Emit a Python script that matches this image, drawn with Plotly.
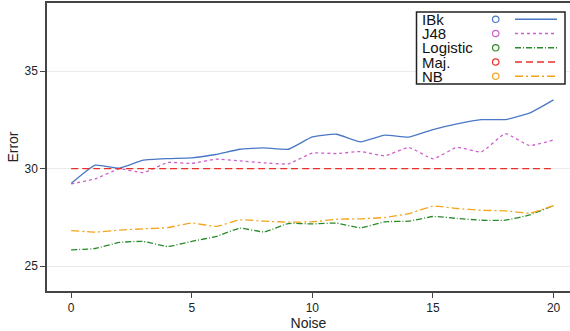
import plotly.graph_objects as go

noise = list(range(21))
ibk = [29.23, 30.17, 30.02, 30.43, 30.51, 30.55, 30.72, 30.99, 31.06, 30.99, 31.62,
       31.76, 31.37, 31.71, 31.61, 32.0, 32.29, 32.51, 32.51, 32.84, 33.52]
j48 = [29.21, 29.47, 29.98, 29.79, 30.31, 30.26, 30.48, 30.39, 30.29, 30.24, 30.79,
       30.77, 30.87, 30.65, 31.08, 30.5, 31.09, 30.85, 31.79, 31.18, 31.47]
logistic = [25.83, 25.90, 26.21, 26.26, 26.0, 26.27, 26.51, 26.94, 26.75, 27.18, 27.16,
            27.2, 26.96, 27.27, 27.3, 27.54, 27.44, 27.35, 27.35, 27.62, 28.1]
maj = [30.0] * 21
nb = [26.82, 26.74, 26.84, 26.91, 26.97, 27.21, 27.03, 27.37, 27.30, 27.25, 27.27,
      27.40, 27.42, 27.49, 27.69, 28.07, 27.95, 27.86, 27.83, 27.71, 28.1]

names = ["IBk", "J48", "Logistic", "Maj.", "NB"]
series = [ibk, j48, logistic, maj, nb]
colors = ["#4a78c6", "#cc5fcc", "#2a8a2a", "#e8302a", "#f5a31a"]
dashes = ["solid", "3px,3px", "6px,2px,1px,2px", "7px,4px", "8px,3px,2px,3px"]

fig = go.Figure()
for n, s, c, d in zip(names, series, colors, dashes):
    fig.add_trace(go.Scatter(x=noise, y=s, mode="lines", name=n,
                             line=dict(color=c, width=1.3, dash=d, shape="spline", smoothing=0.4),
                             showlegend=False))

# custom legend (text, circle, line) in pixel-like paper coords
W, H = 570, 331
ml, mr, mt, mb = 47, 0, 3, 40
pw, ph = W - ml - mr, H - mt - mb
def px(x):
    return (x - ml) / pw
def py(y):
    return 1 - (y - mt) / ph

fig.add_shape(type="rect", xref="paper", yref="paper",
              x0=px(416.5), x1=px(565), y0=py(84), y1=py(12),
              line=dict(color="#222222", width=1.5), fillcolor="white", layer="above")
rows = [19.3, 33.5, 47.8, 62.0, 76.3]
for n, c, d, yy in zip(names, colors, dashes, rows):
    fig.add_annotation(xref="paper", yref="paper", x=px(421), y=py(yy), text=n,
                       showarrow=False, xanchor="left", yanchor="middle", borderpad=0,
                       font=dict(family="Liberation Sans, Arial", size=15, color="#111111"))
    fig.add_shape(type="circle", xref="paper", yref="paper",
                  x0=px(492.5), x1=px(499), y0=py(yy + 3.2), y1=py(yy - 3.2),
                  line=dict(color=c, width=1.2), layer="above")
    fig.add_shape(type="line", xref="paper", yref="paper",
                  x0=px(515), x1=px(557), y0=py(yy), y1=py(yy),
                  line=dict(color=c, width=1.4, dash=d), layer="above")

fig.update_layout(
    width=W, height=H,
    margin=dict(l=ml, r=mr, t=mt, b=mb),
    plot_bgcolor="white", paper_bgcolor="white",
    font=dict(family="Liberation Sans, Arial", size=12, color="#222222"),
    xaxis=dict(range=[-1.0, 20.68], tickvals=[0, 5, 10, 15, 20], showgrid=False,
               zeroline=False, showline=True, linecolor="#444444", linewidth=1.5,
               mirror=True, ticks="outside", ticklen=5, tickcolor="#444444",
               tickfont=dict(size=12, color="#222222"),
               title=dict(text="Noise", font=dict(size=14, color="#222222"), standoff=1)),
    yaxis=dict(range=[23.72, 38.49], tickvals=[25, 30, 35], showgrid=True,
               gridcolor="#ebebeb", gridwidth=1, zeroline=False, showline=True,
               linecolor="#444444", linewidth=1.5, ticks="outside", ticklen=5,
               tickcolor="#444444", tickfont=dict(size=12, color="#222222"),
               title=dict(text="Error", font=dict(size=14, color="#222222"), standoff=3)),
)

fig.write_html("out.html")
